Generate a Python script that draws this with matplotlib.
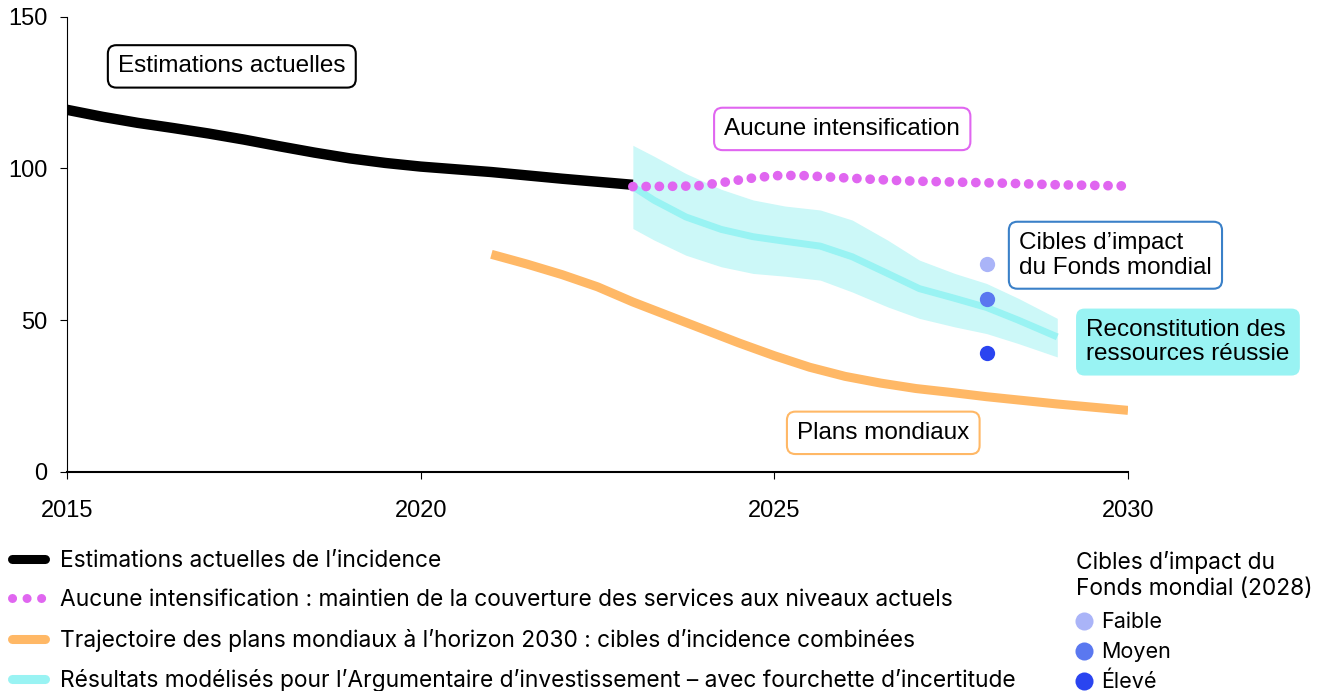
import matplotlib
matplotlib.use("Agg")
import matplotlib.pyplot as plt
from matplotlib.lines import Line2D

plt.rcParams['font.family'] = ['Liberation Sans', 'DejaVu Sans']

# ---- Data ----
years_actual = [2015, 2015.5, 2016, 2016.5, 2017, 2017.5, 2018, 2018.5, 2019, 2019.5,
                2020, 2020.5, 2021, 2021.5, 2022, 2022.5, 2023]
vals_actual = [119.3, 117.0, 115.0, 113.3, 111.5, 109.5, 107.3, 105.2, 103.3, 101.8,
               100.6, 99.7, 98.8, 97.7, 96.6, 95.6, 94.6]

years_noscale = [2023, 2023.9, 2024.25, 2024.65, 2025, 2025.35, 2025.75, 2026.3, 2026.85,
                 2027.55, 2028.3, 2029, 2030]
vals_noscale = [94.0, 94.2, 95.3, 96.7, 97.6, 97.7, 97.2, 96.5, 95.9, 95.5, 95.1, 94.6, 94.2]

years_plans = [2021, 2021.5, 2022, 2022.5, 2023, 2023.5, 2024, 2024.5, 2025, 2025.5,
               2026, 2026.5, 2027, 2027.5, 2028, 2029, 2030]
vals_plans = [71.7, 68.5, 65.0, 61.0, 56.0, 51.5, 47.0, 42.5, 38.3, 34.5,
              31.5, 29.3, 27.5, 26.2, 24.8, 22.4, 20.3]

years_model = [2023, 2023.3, 2023.75, 2024.25, 2024.7, 2025.15, 2025.65, 2026.1, 2026.6,
               2027.05, 2027.55, 2028, 2028.45, 2029]
vals_model = [94.0, 89.5, 84.0, 79.9, 77.5, 76.0, 74.4, 70.9, 65.4, 60.4, 57.2, 54.2, 50.0, 44.5]
vals_upper = [107.6, 104.0, 98.3, 93.1, 89.6, 87.6, 86.3, 83.0, 76.4, 69.8, 65.4, 62.1, 57.2, 50.6]
vals_lower = [80.2, 76.4, 71.4, 67.6, 65.4, 64.5, 63.2, 59.3, 54.4, 50.6, 47.8, 45.6, 42.3, 37.9]

target_year = 2028
target_labels = ['Faible', 'Moyen', 'Élevé']
target_vals = [68.6, 57.0, 39.2]

legend_labels = ['Estimations actuelles de l’incidence',
                 'Aucune intensification : maintien de la couverture des services aux niveaux actuels',
                 'Trajectoire des plans mondiaux à l’horizon 2030 : cibles d’incidence combinées',
                 'Résultats modélisés pour l’Argumentaire d’investissement – avec fourchette d’incertitude']

c_black = '#000000'
c_mag = '#e066f0'
c_orange = '#ffb866'
c_cyan = '#99f3f3'
c_band = '#ccf8f8'
c_targets = ['#aab4f8', '#5a78f0', '#2a44f0']

fig = plt.figure(figsize=(13.3, 6.91), dpi=100)
ax = fig.add_axes([67/1330, 1-472/691, (1128-67)/1330, (472-16.6)/691])

ax.fill_between(years_model, vals_lower, vals_upper, color=c_band, lw=0, zorder=1)
ax.plot(years_model, vals_model, color=c_cyan, lw=5, solid_capstyle='butt',
        solid_joinstyle='round', zorder=2)
ax.plot(years_plans, vals_plans, color=c_orange, lw=6.5, solid_capstyle='butt',
        solid_joinstyle='round', zorder=2)
ax.plot(years_actual, vals_actual, color=c_black, lw=7.5, solid_capstyle='butt',
        solid_joinstyle='round', zorder=3)
ax.plot(years_noscale, vals_noscale, color=c_mag, lw=7, linestyle=(0, (0.01, 1.35)),
        dash_capstyle='round', zorder=4)
for v, c in zip(target_vals, c_targets):
    ax.plot([target_year], [v], 'o', color=c, ms=11, mec='none', zorder=5)

ax.set_xlim(2015, 2030)
ax.set_ylim(0, 150)
ax.set_xticks([2015, 2020, 2025, 2030])
ax.set_yticks([0, 50, 100, 150])
for s in ['top', 'right']:
    ax.spines[s].set_visible(False)
ax.spines['bottom'].set_linewidth(1.5)
ax.tick_params(axis='x', labelsize=17, pad=15, length=5)
ax.tick_params(axis='y', labelsize=17, pad=9, length=5)

fs = 17.5
def box(x, y, txt, ec, fc='white', ha='center'):
    ax.text(x, y, txt, fontsize=fs, ha=ha, va='center', clip_on=False, zorder=6,
            linespacing=1.15, multialignment='left',
            bbox=dict(boxstyle='round,pad=0.42,rounding_size=0.35', fc=fc, ec=ec, lw=1.5))

box(2017.33, 133.6, 'Estimations actuelles', c_black)
box(2025.96, 113.0, 'Aucune intensification', c_mag)
box(2028.46, 71.4, 'Cibles d’impact\ndu Fonds mondial', '#3a80c8', ha='left')
box(2029.41, 42.8, 'Reconstitution des\nressources réussie', 'none', fc=c_cyan, ha='left')
box(2026.54, 12.9, 'Plans mondiaux', c_orange)

# Legend 1
h1 = [Line2D([], [], color=c_black, lw=6.5, solid_capstyle='round'),
      Line2D([], [], color=c_mag, lw=6.5, linestyle=(0, (0.01, 1.6)), dash_capstyle='round'),
      Line2D([], [], color=c_orange, lw=6.5, solid_capstyle='round'),
      Line2D([], [], color=c_cyan, lw=6.5, solid_capstyle='round')]
fig.legend(h1, legend_labels, loc='upper left', bbox_to_anchor=(0.004, 1-543/691),
           frameon=False, prop={'family': 'Inter', 'size': 16.4}, handlelength=1.45,
           handletextpad=0.65, labelspacing=0.77, borderaxespad=0.0, borderpad=0.3)

h2 = [Line2D([], [], marker='o', color=c, ls='none', ms=13, mec='none') for c in c_targets]
leg2 = fig.legend(h2, target_labels, loc='upper left', bbox_to_anchor=(1070/1330, 1-545/691),
                  frameon=False, prop={'family': 'Inter', 'size': 15.5},
                  title='Cibles d’impact du\nFonds mondial (2028)',
                  title_fontproperties={'family': 'Inter', 'size': 16.4},
                  alignment='left', handlelength=0.7, handletextpad=0.45,
                  labelspacing=0.45, borderaxespad=0.0, borderpad=0.3)
leg2._legend_box.sep = 9

fig.savefig('out.png', dpi=100)
